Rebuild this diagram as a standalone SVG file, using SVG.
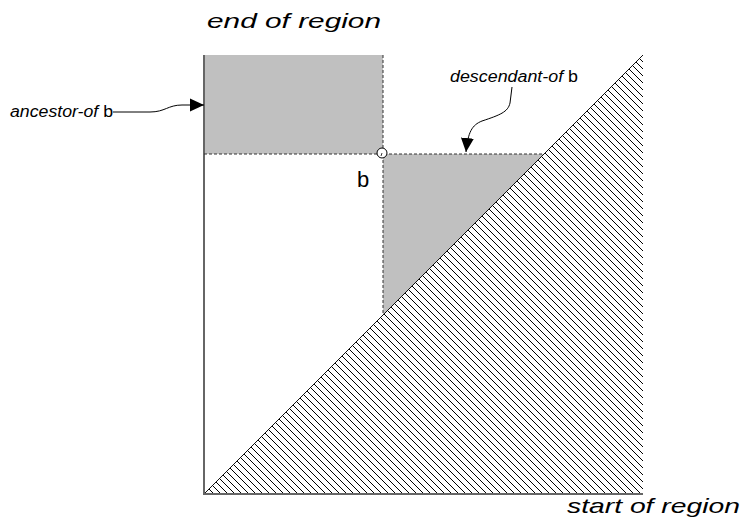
<svg xmlns="http://www.w3.org/2000/svg" width="745" height="520" viewBox="0 0 745 520">
  <style>
    .lbl { font-family: "Liberation Sans", Arial, sans-serif; fill: #000; }
    .it { font-style: italic; }
    .dash { stroke: #333; stroke-width: 1; stroke-dasharray: 3 2; fill: none; }
    .axis { stroke: #666; stroke-width: 2; fill: none; }
    .region { fill: #c0c0c0; stroke: none; }
    .conn { stroke: #000; stroke-width: 1; fill: none; }
  </style>
  <defs>
    <pattern id="hatch" patternUnits="userSpaceOnUse" width="7" height="7" x="0" y="0">
      <path d="M-1,-1 L8,8 M-8,-1 L1,8 M6,-1 L15,8" stroke="#000" stroke-width="1"/>
    </pattern>
    <marker id="arrowHead" viewBox="0 0 14 14" refX="14" refY="7" markerWidth="14" markerHeight="14" markerUnits="userSpaceOnUse" orient="auto">
      <path d="M0,0.5 L14,7 L0,13.5 Z" fill="#000"/>
    </marker>
  </defs>

  <rect width="745" height="520" fill="#fff"/>

  <!-- regions -->
  <g id="ancestor-region">
    <rect class="region" x="204" y="55" width="179" height="99"/>
  </g>
  <g id="descendant-region">
    <polygon class="region" points="383,154 544,154 383,315"/>
  </g>
  <g id="impossible-region">
    <polygon points="204,494 643,55 643,494" fill="url(#hatch)"/>
    <line x1="204" y1="494" x2="643" y2="55" stroke="#111" stroke-width="1"/>
  </g>

  <!-- axes -->
  <g id="axes">
    <line class="axis" x1="204" y1="55" x2="204" y2="494"/>
    <line class="axis" x1="203" y1="494" x2="643" y2="494"/>
  </g>

  <!-- guide lines through b -->
  <g id="guides">
    <line class="dash" x1="383" y1="55" x2="383" y2="315"/>
    <line class="dash" x1="204" y1="154" x2="544" y2="154"/>
  </g>

  <g id="node-b">
    <circle cx="382" cy="153" r="5" fill="#fff" stroke="#000" stroke-width="1"/>
    <path d="M382,153 L381,156" stroke="#000" stroke-width="0.8"/>
    <text class="lbl" x="357" y="187" font-size="22">b</text>
  </g>

  <!-- labels -->
  <g id="label-end">
    <text class="lbl it" x="207" y="28" font-size="21" textLength="174" lengthAdjust="spacingAndGlyphs">end of region</text>
  </g>
  <g id="label-start">
    <text class="lbl it" x="567" y="513" font-size="21" textLength="173" lengthAdjust="spacingAndGlyphs">start of region</text>
  </g>
  <g id="label-ancestor">
    <text class="lbl" x="10" y="117" font-size="16" textLength="103" lengthAdjust="spacingAndGlyphs"><tspan class="it">ancestor-of</tspan> b</text>
  </g>
  <g id="label-descendant">
    <text class="lbl" x="450" y="82" font-size="16" textLength="128" lengthAdjust="spacingAndGlyphs"><tspan class="it">descendant-of</tspan> b</text>
  </g>

  <!-- connectors -->
  <g id="connectors">
    <path class="conn" d="M113,112 L150,112 C165,112 168,105 182,105 L204,105" marker-end="url(#arrowHead)"/>
    <path class="conn" d="M512,87 L510,103 C508,112 500,115 482,121 C472,125 468,132 466,152" marker-end="url(#arrowHead)"/>
  </g>
</svg>
